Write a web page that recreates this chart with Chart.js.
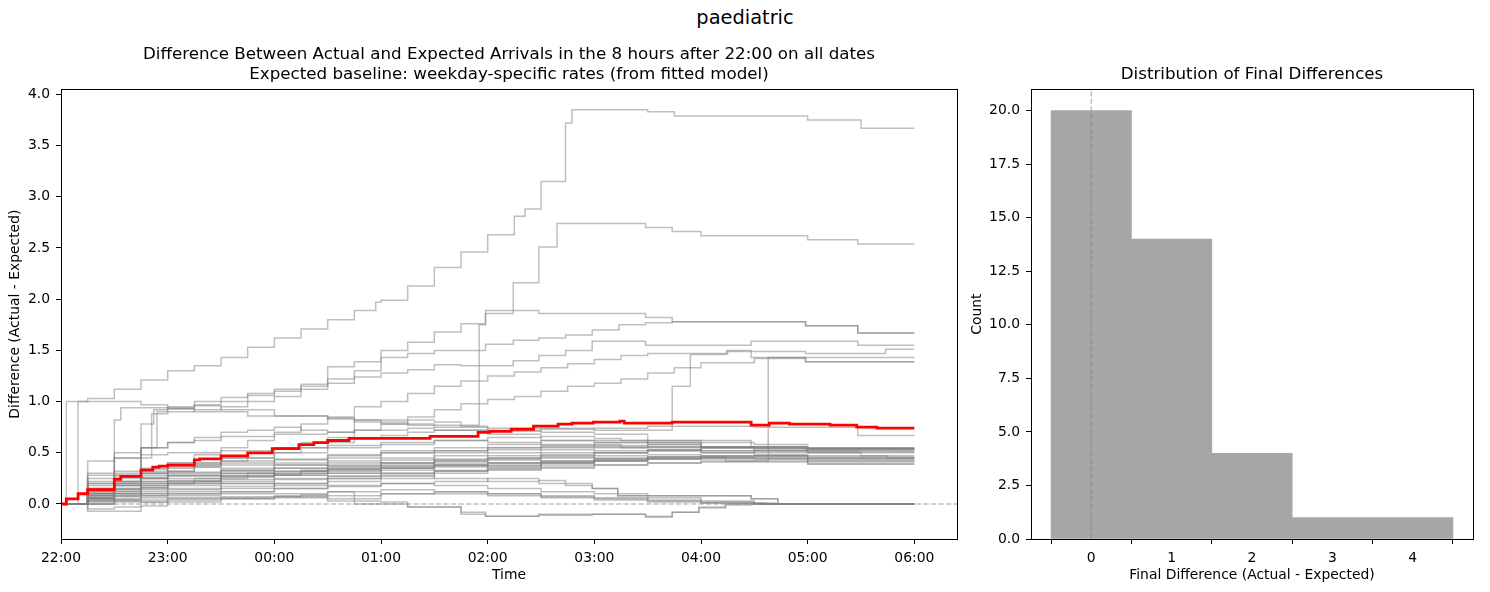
<!DOCTYPE html>
<html>
<head>
<meta charset="utf-8">
<script src="https://cdn.jsdelivr.net/npm/chart.js@4.4.1/dist/chart.umd.min.js"></script>
<style>
  body { margin: 0; background: #fff; }
  #wrap { position: relative; width: 1490px; height: 592px; }
  #suptitle { position: absolute; left: 0; top: 6px; width: 1490px; text-align: center;
    font: 19.4px "DejaVu Sans", sans-serif; line-height: 24px; color: #000; }
  #left { position: absolute; left: 0; top: 0; }
  #right { position: absolute; left: 960px; top: 0; }
</style>
</head>
<body>
<div id="wrap">
  <div id="suptitle">paediatric</div>
  <canvas id="left" width="970" height="592"></canvas>
  <canvas id="right" width="530" height="592"></canvas>
</div>
<script>
// hours after 22:00 and the tick labels
var hourTicks = [0, 1, 2, 3, 4, 5, 6, 7, 8];
var timeLabels = ['22:00', '23:00', '00:00', '01:00', '02:00', '03:00', '04:00', '05:00', '06:00'];
var diffTicks = [0, 0.5, 1, 1.5, 2, 2.5, 3, 3.5, 4];

// each date: [hour, difference] at the moments the step changes
var date01 = [[0,0],[0.05,1.0],[0.25,1.03],[0.5,1.12],[0.75,1.21],[1,1.30],[1.25,1.35],[1.5,1.43],[1.75,1.53],[2,1.62],[2.25,1.71],[2.5,1.80],[2.75,1.89],[2.95,1.97],[3.0,1.99],[3.25,2.13],[3.5,2.31],[3.75,2.46],[4.0,2.63],[4.25,2.81],[4.35,2.88],[4.5,3.15],[4.73,3.72],[4.79,3.85],[5.5,3.83],[5.75,3.79],[7.0,3.75],[7.5,3.67]];
var date02 = [[0,0],[0.16,1.0],[0.75,0.97],[1.0,0.94],[1.25,0.96],[1.5,0.92],[2.0,0.86],[2.5,0.83],[2.75,0.80],[3.25,0.77],[3.92,1.75],[3.98,1.86],[4.24,2.16],[4.48,2.51],[4.65,2.74],[5.48,2.70],[5.73,2.66],[6.0,2.62],[7.0,2.58],[7.47,2.54]];
var date03 = [[0,0],[0.25,0.12],[0.5,0.28],[0.75,0.78],[0.87,0.92],[1.0,0.95],[1.25,1.0],[1.5,1.04],[1.75,1.08],[2.0,1.12],[2.25,1.17],[2.5,1.34],[2.75,1.39],[3.0,1.50],[3.25,1.58],[3.5,1.68],[3.75,1.76],[3.98,1.89],[4.48,1.86],[5.48,1.82],[5.73,1.78],[6.98,1.74],[7.47,1.67]];
var date04 = [[0,0],[0.25,0.08],[0.5,0.22],[0.75,0.55],[0.9,0.90],[1.0,0.93],[1.25,0.97],[1.5,1.0],[1.75,1.06],[2.0,1.10],[2.25,1.15],[2.5,1.22],[2.75,1.30],[3.0,1.43],[3.25,1.47],[3.5,1.50],[3.98,1.56],[4.24,1.60],[4.48,1.62],[4.73,1.65],[4.98,1.70],[5.23,1.75],[5.48,1.77],[5.73,1.78],[6.98,1.74],[7.47,1.67]];
var date05 = [[0,0],[0.25,0.05],[0.5,0.18],[0.75,0.45],[0.85,0.88],[1.0,0.90],[1.25,0.92],[1.5,0.95],[1.75,1.0],[2.0,1.05],[2.25,1.12],[2.5,1.18],[2.75,1.24],[3.0,1.28],[3.25,1.31],[3.5,1.36],[3.75,1.35],[4.24,1.40],[4.48,1.45],[4.73,1.50],[4.98,1.59],[5.48,1.55],[6.47,1.59],[7.47,1.55]];
var date06 = [[0,0],[0.25,0.08],[0.5,0.82],[0.56,0.94],[1.0,0.93],[1.25,0.90],[1.75,0.86],[2.5,0.84],[2.75,0.82],[3.5,0.80],[3.75,0.76],[4.0,0.74],[5.0,0.72],[5.73,1.15],[5.9,1.46],[6.24,1.50],[6.47,1.43],[6.98,1.39]];
var date07 = [[0,0],[0.25,0.05],[0.5,0.1],[0.75,0.15],[1.0,0.2],[1.25,0.22],[1.5,0.25],[1.75,0.3],[2.0,0.28],[2.25,0.33],[2.5,0.30],[3.0,0.35],[3.5,0.38],[4.0,0.36],[4.5,0.40],[5.0,0.44],[5.5,0.46],[6.23,0.42],[6.63,1.43],[6.98,1.39]];
var date08 = [[0,0],[0.25,0.1],[0.5,0.2],[0.75,0.3],[1.0,0.4],[1.25,0.48],[1.5,0.55],[1.75,0.62],[2.0,0.7],[2.25,0.78],[2.5,0.85],[2.75,0.95],[3.0,1.0],[3.25,1.08],[3.5,1.15],[3.75,1.20],[4.0,1.25],[4.25,1.29],[4.5,1.33],[4.75,1.37],[5.0,1.41],[5.25,1.45],[5.5,1.47],[6.25,1.49],[6.98,1.47],[7.73,1.51]];
var date09 = [[0,0],[0.25,0.06],[0.5,0.14],[0.75,0.25],[1.0,0.32],[1.25,0.4],[1.5,0.45],[1.75,0.5],[2.0,0.55],[2.25,0.6],[2.5,0.65],[2.75,0.72],[3.0,0.78],[3.25,0.85],[3.5,0.92],[3.75,0.98],[4.0,1.02],[4.25,1.05],[4.5,1.10],[4.75,1.15],[5.0,1.18],[5.25,1.22],[5.5,1.28],[5.75,1.33],[6.0,1.38],[6.5,1.42],[6.98,1.43]];
var date10 = [[0,0],[0.25,-0.05],[0.5,-0.03],[0.75,0.02],[1.0,0.05],[1.5,0.07],[2.25,0.09],[2.5,0.12],[2.75,0.0],[3.25,-0.03],[3.75,-0.10],[3.98,-0.12],[4.48,-0.10],[5.48,-0.12],[5.73,-0.08],[5.98,-0.03],[6.23,0.0]];
var date11 = [[0,0],[0.25,-0.07],[0.75,-0.02],[1.0,0.02],[1.5,0.05],[2.0,0.06],[2.5,0.03],[3.0,0.02],[3.25,-0.03],[3.75,-0.08],[3.98,-0.12],[4.48,-0.11],[4.98,-0.10],[5.48,-0.13],[5.73,-0.08],[5.98,-0.04],[6.23,-0.01],[6.48,0.0]];
var date12 = [[0,0],[0.25,0.03],[0.5,0.08],[0.75,0.12],[1.0,0.14],[1.5,0.17],[2.0,0.2],[2.5,0.25],[3.0,0.27],[3.5,0.25],[4.0,0.22],[4.48,0.23],[4.73,0.18],[4.98,0.15],[5.22,0.08],[6.47,0.05],[6.72,0.0]];
var date13 = [[0,0],[0.25,0.0],[0.5,0.05],[0.75,0.08],[1.0,0.1],[1.5,0.12],[2.0,0.15],[2.5,0.18],[3.0,0.2],[3.5,0.22],[4.0,0.25],[4.48,0.2],[4.98,0.15],[5.22,0.08],[6.47,0.05],[6.72,0.0]];
var date14 = [[0,0],[0.25,0.15],[0.5,0.22],[0.75,0.3],[1.0,0.35],[1.25,0.38],[1.5,0.42],[1.75,0.45],[2.0,0.5],[2.25,0.55],[2.5,0.60],[2.75,0.64],[3.0,0.67],[3.25,0.70],[3.5,0.72],[4.0,0.71],[4.5,0.73],[5.0,0.74],[5.5,0.76],[6.5,0.75],[7.47,0.67]];
var date15 = [[0,0],[0.25,0.25],[0.5,0.3],[0.75,0.35],[1.0,0.40],[1.5,0.45],[2.0,0.50],[2.5,0.55],[3.0,0.58],[3.5,0.62],[4.0,0.65],[4.5,0.66],[5.0,0.64],[5.25,0.62],[6.47,0.56],[6.98,0.54]];
var date16 = [[0,0],[0.25,0.2],[0.5,0.28],[0.75,0.32],[1.0,0.38],[1.5,0.42],[2.0,0.40],[2.5,0.45],[3.0,0.52],[3.5,0.55],[4.0,0.58],[4.5,0.62],[5.5,0.60],[6.0,0.56],[6.98,0.52],[7.47,0.54]];
var date17 = [[0,0],[0.25,0.12],[0.5,0.2],[0.75,0.25],[1.0,0.3],[1.5,0.35],[2.0,0.38],[2.5,0.42],[3.0,0.45],[3.5,0.5],[4.0,0.55],[4.5,0.56],[5.0,0.58],[5.25,0.55],[6.0,0.52],[6.5,0.5],[7.5,0.47]];
var date18 = [[0,0],[0.25,0.08],[0.5,0.15],[0.75,0.2],[1.0,0.22],[1.5,0.28],[2.0,0.32],[2.5,0.36],[3.0,0.40],[3.5,0.43],[4.0,0.45],[4.5,0.48],[5.0,0.50],[5.5,0.52],[6.0,0.50],[6.5,0.48],[7.0,0.47],[7.75,0.45]];
var date19 = [[0,0],[0.25,0.1],[0.5,0.18],[0.75,0.22],[1.0,0.25],[1.5,0.3],[2.0,0.28],[2.5,0.3],[3.0,0.33],[3.5,0.36],[4.0,0.38],[4.5,0.40],[5.0,0.42],[5.5,0.44],[6.0,0.45],[6.5,0.44],[7.0,0.42]];
var date20 = [[0,0],[0.25,0.05],[0.5,0.1],[0.75,0.14],[1.0,0.18],[1.5,0.2],[2.0,0.18],[2.5,0.22],[3.0,0.25],[3.5,0.30],[4.0,0.33],[4.5,0.35],[5.0,0.38],[5.5,0.40],[6.0,0.42],[7.0,0.39]];
var date21 = [[0,0],[0.25,0.3],[0.5,0.45],[0.75,0.55],[1.0,0.6],[1.25,0.65],[1.5,0.7],[1.75,0.72],[2.0,0.75],[2.25,0.72],[2.5,0.70],[2.75,0.82],[3.0,0.78],[3.5,0.75],[4.0,0.72],[4.5,0.70],[5.0,0.68],[5.5,0.60],[6.0,0.56],[7.0,0.55]];
var date22 = [[0,0],[0.25,0.02],[0.5,0.04],[1.0,0.06],[2.0,0.08],[2.5,0.05],[3.0,0.1],[3.5,0.12],[4.0,0.1],[4.5,0.08],[5.0,0.06],[5.5,0.04],[6.0,0.02],[6.5,0.0]];
var date23 = [[0,0],[0.25,0.18],[0.5,0.25],[0.75,0.28],[1.0,0.32],[1.25,0.36],[1.5,0.38],[2.0,0.44],[2.5,0.48],[3.0,0.50],[3.5,0.52],[4.0,0.53],[4.5,0.55],[5.0,0.56],[5.5,0.58],[6.0,0.55],[6.5,0.52],[7.0,0.50]];
var date24 = [[0,0],[0.5,0.03],[0.75,0.1],[1.0,0.12],[1.5,0.15],[2.0,0.2],[2.5,0.25],[3.0,0.28],[3.5,0.32],[4.0,0.35],[4.5,0.38],[5.0,0.42],[5.5,0.44],[6.0,0.46],[6.5,0.47],[7.0,0.45]];
var date25 = [[0,0],[0.25,0.15],[0.5,0.5],[0.75,0.55],[1.0,0.6],[1.25,0.62],[1.5,0.66],[2.0,0.68],[2.5,0.7],[2.75,0.72],[3.25,0.74],[3.5,0.72],[4.0,0.68],[4.5,0.62],[5.0,0.6],[5.5,0.58],[6.0,0.56],[6.5,0.54]];
var date26 = [[0,0],[0.25,0.05],[0.5,0.12],[0.75,0.18],[1.0,0.2],[1.25,0.25],[1.5,0.27],[2.0,0.3],[2.5,0.35],[3.0,0.38],[3.5,0.42],[4.0,0.45],[4.5,0.47],[5.0,0.5],[5.5,0.52],[6.0,0.5],[6.5,0.52],[7.0,0.54]];
var date27 = [[0,0],[0.25,0.1],[0.5,0.14],[0.75,0.16],[1.0,0.2],[1.5,0.24],[2.0,0.28],[2.25,0.32],[2.5,0.34],[3.0,0.37],[3.5,0.4],[4.0,0.43],[4.5,0.46],[5.0,0.5],[5.5,0.53],[6.0,0.55],[6.5,0.54],[7.0,0.52]];
var date28 = [[0,0],[0.25,0.28],[0.5,0.32],[0.75,0.34],[1.0,0.36],[1.5,0.4],[2.0,0.43],[2.5,0.47],[3.0,0.5],[3.5,0.52],[4.0,0.55],[4.5,0.57],[5.0,0.6],[5.5,0.62],[6.0,0.6],[6.5,0.58],[7.0,0.55]];
var date29 = [[0,0],[0.25,0.08],[0.5,0.1],[0.75,0.22],[1.0,0.28],[1.5,0.33],[2.0,0.38],[2.5,0.4],[3.0,0.43],[3.5,0.47],[4.0,0.5],[4.5,0.53],[5.0,0.55],[5.5,0.56],[6.0,0.55],[7.0,0.53]];
var date30 = [[0,0],[0.25,0.15],[0.5,0.2],[0.75,0.26],[1.0,0.28],[1.5,0.32],[2.0,0.35],[2.5,0.38],[3.0,0.4],[3.5,0.44],[4.0,0.47],[4.5,0.5],[5.0,0.52],[5.5,0.53],[6.0,0.52],[7.0,0.51]];
var date31 = [[0,0],[0.25,0.06],[0.5,0.08],[1.0,0.1],[1.5,0.12],[2.0,0.15],[2.5,0.17],[3.0,0.2],[3.5,0.18],[4.0,0.15],[4.5,0.12],[5.0,0.1],[5.5,0.06],[6.0,0.03],[6.5,0.0]];
var date32 = [[0,0],[0.25,0.04],[0.75,0.06],[1.0,0.08],[1.5,0.1],[2.5,0.12],[3.0,0.14],[3.5,0.12],[4.0,0.1],[4.5,0.07],[5.0,0.05],[5.5,0.03],[6.0,0.01],[6.6,0.0]];
var date33 = [[0,0],[0.25,0.1],[0.5,0.15],[0.75,0.18],[1.0,0.22],[1.5,0.26],[2.0,0.28],[2.5,0.32],[3.0,0.35],[3.5,0.38],[4.0,0.4],[4.5,0.42],[5.0,0.44],[5.5,0.46],[6.0,0.47],[7.0,0.44]];
var date34 = [[0,0],[0.25,0.2],[0.5,0.22],[0.75,0.25],[1.0,0.27],[1.5,0.3],[2.0,0.32],[2.5,0.34],[3.0,0.36],[3.5,0.38],[4.0,0.4],[4.5,0.41],[5.0,0.43],[5.5,0.45],[6.0,0.44],[7.0,0.41]];
var date35 = [[0,0],[0.25,0.03],[0.5,0.07],[0.75,0.1],[1.0,0.15],[1.5,0.2],[2.0,0.24],[2.5,0.27],[3.0,0.3],[3.5,0.33],[4.0,0.37],[4.5,0.4],[5.0,0.42],[5.5,0.44],[6.0,0.46]];
var date36 = [[0,0],[0.25,0.12],[0.5,0.18],[0.75,0.2],[1.0,0.23],[1.5,0.27],[2.0,0.3],[2.5,0.33],[3.0,0.35],[3.5,0.37],[4.0,0.4],[4.5,0.42],[5.0,0.45],[5.5,0.46],[6.0,0.45],[7.0,0.43]];
var date37 = [[0,0],[0.5,0.02],[1.0,0.04],[1.5,0.05],[2.0,0.07],[2.5,0.08],[3.0,0.1],[4.0,0.08],[4.5,0.06],[5.0,0.04],[5.5,0.02],[6.0,0.01],[6.7,0.0]];
var date38 = [[0,0],[0.25,0.06],[0.5,0.12],[0.75,0.16],[1.0,0.2],[1.5,0.22],[2.0,0.25],[2.5,0.27],[3.0,0.3],[3.5,0.32],[4.0,0.34],[4.5,0.36],[5.0,0.38],[5.5,0.4],[6.0,0.41],[7.0,0.39]];
var date39 = [[0,0],[0.25,0.22],[0.5,0.26],[0.75,0.3],[1.0,0.31],[1.5,0.33],[2.0,0.35],[2.5,0.37],[3.0,0.4],[3.5,0.42],[4.0,0.44],[4.5,0.45],[5.0,0.47],[5.5,0.48],[6.0,0.47],[7.0,0.45]];
var date40 = [[0,0],[0.25,0.42],[0.5,0.45],[0.75,0.48],[1.0,0.5],[1.5,0.52],[2.0,0.55],[2.5,0.57],[3.0,0.6],[3.5,0.62],[4.0,0.6],[4.5,0.58],[5.0,0.57],[5.5,0.56],[6.0,0.55],[7.0,0.54]];

// mean over all dates (red)
var meanLine = [[0,0],[0.05,0.05],[0.16,0.10],[0.25,0.14],[0.5,0.24],[0.56,0.27],[0.75,0.33],[0.86,0.36],[0.92,0.37],[1.0,0.38],[1.25,0.43],[1.3,0.44],[1.5,0.47],[1.75,0.50],[1.98,0.54],[2.23,0.58],[2.37,0.60],[2.5,0.62],[2.7,0.64],[3.46,0.66],[3.91,0.70],[4.02,0.71],[4.22,0.73],[4.43,0.76],[4.66,0.78],[4.79,0.79],[4.99,0.80],[5.24,0.81],[5.28,0.79],[5.73,0.80],[6.47,0.77],[6.64,0.79],[6.83,0.78],[7.21,0.77],[7.46,0.75],[7.65,0.74]];

// histogram of final differences
var binCenters = [0, 1, 2, 3, 4];
var binCounts = [20, 14, 4, 1, 1];
var countTicks = [0, 2.5, 5, 7.5, 10, 12.5, 15, 17.5, 20];

var allDates = [date01, date02, date03, date04, date05, date06, date07, date08, date09, date10,
  date11, date12, date13, date14, date15, date16, date17, date18, date19, date20,
  date21, date22, date23, date24, date25, date26, date27, date28, date29, date30,
  date31, date32, date33, date34, date35, date36, date37, date38, date39, date40];

Chart.defaults.font.family = '"DejaVu Sans", sans-serif';
Chart.defaults.font.size = 13.9;
Chart.defaults.color = '#000';

function toPoints(steps) {
  var pts = steps.map(function (s) { return { x: s[0], y: s[1] }; });
  pts.push({ x: 8, y: steps[steps.length - 1][1] });
  return pts;
}

// full box round the plot like matplotlib spines
var frame = {
  id: 'frame',
  afterDraw: function (chart) {
    var a = chart.chartArea, c = chart.ctx;
    c.save();
    c.strokeStyle = '#000';
    c.lineWidth = 1;
    c.strokeRect(Math.round(a.left) + 0.5, Math.round(a.top) + 0.5,
      Math.round(a.right - a.left), Math.round(a.bottom - a.top));
    c.restore();
  }
};

var datasets = [{
  data: toPoints(meanLine),
  borderColor: 'red',
  borderWidth: 2.8,
  stepped: true
}];
allDates.forEach(function (d) {
  datasets.push({
    data: toPoints(d),
    borderColor: 'rgba(128,128,128,0.5)',
    borderWidth: 1.5,
    stepped: true
  });
});
datasets.push({
  data: [{ x: 0, y: 0 }, { x: 8.4, y: 0 }],
  borderColor: 'rgba(128,128,128,0.5)',
  borderWidth: 1.4,
  borderDash: [5.2, 2.3]
});

var axisGrid = { display: true, drawOnChartArea: false, drawTicks: true, tickLength: 5, color: '#000' };

new Chart(document.getElementById('left'), {
  type: 'line',
  data: { datasets: datasets },
  options: {
    responsive: false,
    animation: false,
    layout: { padding: { left: 0, right: 13, top: 0, bottom: 0 } },
    elements: { point: { radius: 0 }, line: { tension: 0 } },
    plugins: {
      legend: { display: false },
      tooltip: { enabled: false },
      title: {
        display: true,
        fullSize: false,
        text: ['Difference Between Actual and Expected Arrivals in the 8 hours after 22:00 on all dates',
          'Expected baseline: weekday-specific rates (from fitted model)'],
        font: { size: 16.7, weight: 'normal', lineHeight: 1.2 },
        color: '#000',
        padding: { top: 45, bottom: 4.2 }
      }
    },
    scales: {
      x: {
        type: 'linear', min: 0, max: 8.4,
        afterBuildTicks: function (s) { s.ticks = hourTicks.map(function (v) { return { value: v }; }); },
        afterFit: function (s) { s.height = 53; },
        ticks: { autoSkip: false, maxRotation: 0, padding: 6,
          callback: function (v, i) { return timeLabels[i]; } },
        grid: axisGrid,
        border: { display: false },
        title: { display: true, text: 'Time', padding: { top: 0, bottom: 8.5 } }
      },
      y: {
        type: 'linear', min: -0.342, max: 4.05,
        afterBuildTicks: function (s) { s.ticks = diffTicks.map(function (v) { return { value: v }; }); },
        afterFit: function (s) { s.width = 61; },
        ticks: { padding: 6, callback: function (v) { return v.toFixed(1); } },
        grid: axisGrid,
        border: { display: false },
        title: { display: true, text: 'Difference (Actual - Expected)', padding: { top: 7, bottom: 0 } }
      }
    }
  },
  plugins: [frame]
});

new Chart(document.getElementById('right'), {
  type: 'bar',
  data: {
    datasets: [{
      type: 'line',
      data: [{ x: 0, y: 0 }, { x: 0, y: 21 }],
      borderColor: 'rgba(128,128,128,0.5)',
      borderWidth: 1.4,
      borderDash: [5.2, 2.3],
      pointRadius: 0
    }, {
      type: 'bar',
      data: binCenters.map(function (c, i) { return { x: c, y: binCounts[i] }; }),
      backgroundColor: '#a6a6a6',
      borderWidth: 0,
      barPercentage: 1,
      categoryPercentage: 1
    }]
  },
  options: {
    responsive: false,
    animation: false,
    layout: { padding: { left: 0, right: 17, top: 0, bottom: 0 } },
    plugins: {
      legend: { display: false },
      tooltip: { enabled: false },
      title: {
        display: true,
        fullSize: false,
        text: 'Distribution of Final Differences',
        font: { size: 16.7, weight: 'normal', lineHeight: 1.2 },
        color: '#000',
        padding: { top: 65, bottom: 4.2 }
      }
    },
    scales: {
      x: {
        type: 'linear', min: -0.75, max: 4.75, offset: false,
        afterBuildTicks: function (s) { s.ticks = binCenters.map(function (v) { return { value: v }; }); },
        afterFit: function (s) { s.height = 53; },
        ticks: { autoSkip: false, maxRotation: 0, padding: 6 },
        grid: axisGrid,
        border: { display: false },
        title: { display: true, text: 'Final Difference (Actual - Expected)', padding: { top: 0, bottom: 8.5 } }
      },
      y: {
        type: 'linear', min: 0, max: 21,
        afterBuildTicks: function (s) { s.ticks = countTicks.map(function (v) { return { value: v }; }); },
        afterFit: function (s) { s.width = 71; },
        ticks: { padding: 6, callback: function (v) { return v.toFixed(1); } },
        grid: axisGrid,
        border: { display: false },
        title: { display: true, text: 'Count', padding: { top: 9.5, bottom: 0 } }
      }
    }
  },
  plugins: [frame]
});
</script>
</body>
</html>
